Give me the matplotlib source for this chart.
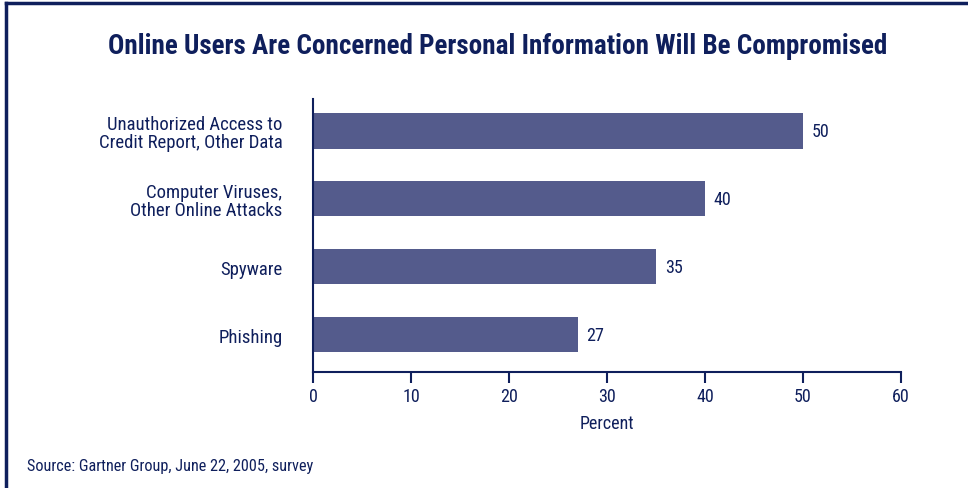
import matplotlib
matplotlib.use('Agg')
from matplotlib import pyplot as plt
from matplotlib.lines import Line2D

categories = ['Unauthorized Access to\nCredit Report, Other Data',
              'Computer Viruses,\nOther Online Attacks',
              'Spyware',
              'Phishing']
values = [50, 40, 35, 27]
xticks = [0, 10, 20, 30, 40, 50, 60]

navy = '#0f1f5c'
bar_color = '#545b8c'

plt.rcParams['font.family'] = ['Roboto Condensed', 'Roboto', 'DejaVu Sans']

fig = plt.figure(figsize=(9.68, 4.89), dpi=100)
ax = fig.add_axes([0.3233, 0.2372, 0.6075, 0.5583])

pos = list(range(len(categories)))
ax.barh(pos, values, height=0.52, color=bar_color)
for p, v in zip(pos, values):
    ax.text(v + 0.9, p, str(v), va='center', ha='left', fontsize=13, color=navy)

ax.set_ylim(3.55, -0.47)
ax.set_xlim(0, 60)
ax.set_xticks(xticks)
ax.set_yticks(pos)
ax.set_yticklabels(categories, fontsize=13.5, color=navy, linespacing=1.0)
ax.tick_params(axis='y', length=0, pad=22)
ax.tick_params(axis='x', length=8, width=1.5, color=navy, labelsize=13,
               labelcolor=navy, pad=3, direction='out')

for s in ['top', 'right']:
    ax.spines[s].set_visible(False)
for s in ['left', 'bottom']:
    ax.spines[s].set_color(navy)
    ax.spines[s].set_linewidth(1.5)

ax.set_xlabel('Percent', fontsize=13, color=navy, labelpad=6)

fig.text(0.514, 0.905, 'Online Users Are Concerned Personal Information Will Be Compromised',
         ha='center', va='center', fontsize=19.5, fontweight='bold', color=navy)
fig.text(0.028, 0.045, 'Source: Gartner Group, June 22, 2005, survey',
         ha='left', va='center', fontsize=11.7, color=navy)

# frame lines at top and left edge
fig.add_artist(Line2D([0.006, 1.0], [0.992, 0.992], transform=fig.transFigure,
                      color=navy, linewidth=2.5))
fig.add_artist(Line2D([0.006, 0.006], [0.0, 0.992], transform=fig.transFigure,
                      color=navy, linewidth=2.5))

fig.savefig('out.png', dpi=100)
